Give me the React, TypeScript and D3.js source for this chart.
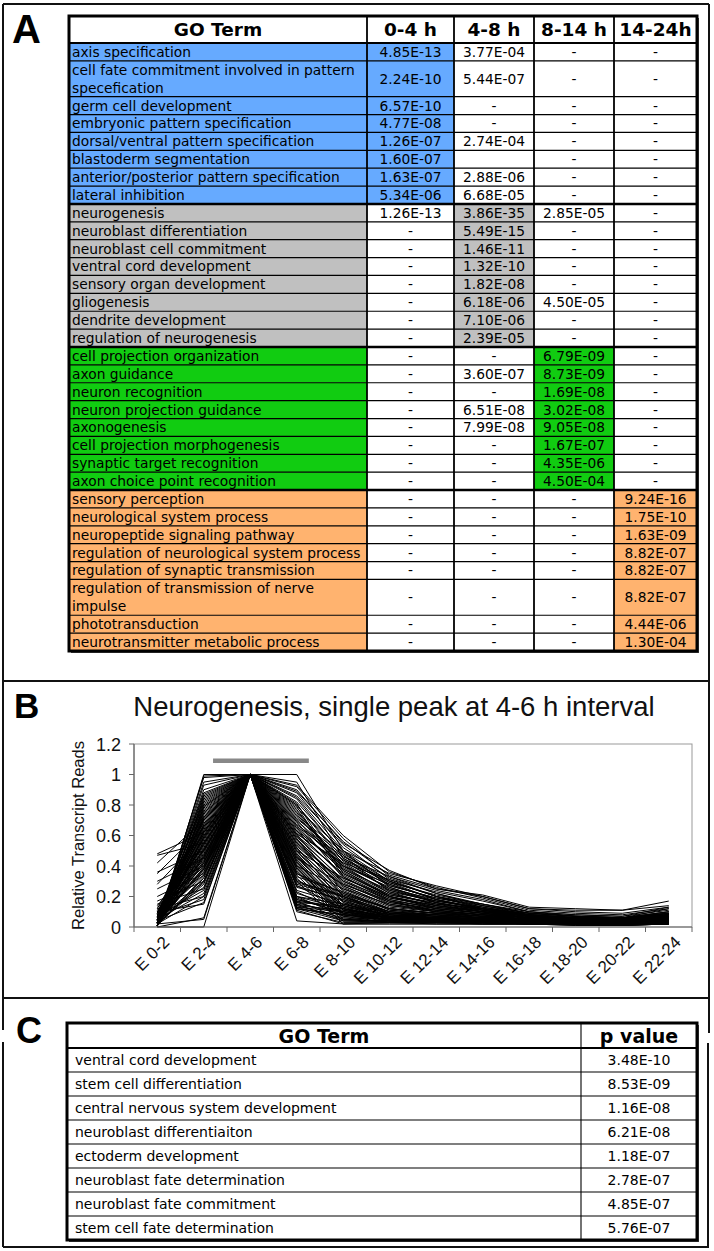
import React from 'react';
import * as d3 from 'd3';

// ---------------- Panel A data ----------------
const groupColors = ['#66aaff', '#c0c0c0', '#11cc11', '#ffb36f'];
const timeHeaders = ['0-4 h', '4-8 h', '8-14 h', '14-24h'];
const termsA = [
  'axis specification',
  'cell fate commitment involved in pattern\nspecefication',
  'germ cell development',
  'embryonic pattern specification',
  'dorsal/ventral pattern specification',
  'blastoderm segmentation',
  'anterior/posterior pattern specification',
  'lateral inhibition',
  'neurogenesis',
  'neuroblast differentiation',
  'neuroblast cell commitment',
  'ventral cord development',
  'sensory organ development',
  'gliogenesis',
  'dendrite development',
  'regulation of neurogenesis',
  'cell projection organization',
  'axon guidance',
  'neuron recognition',
  'neuron projection guidance',
  'axonogenesis',
  'cell projection morphogenesis',
  'synaptic target recognition',
  'axon choice point recognition',
  'sensory perception',
  'neurological system process',
  'neuropeptide signaling pathway',
  'regulation of neurological system process',
  'regulation of synaptic transmission',
  'regulation of transmission of nerve\nimpulse',
  'phototransduction',
  'neurotransmitter metabolic process',
];
const groupA = [0,0,0,0,0,0,0,0, 1,1,1,1,1,1,1,1, 2,2,2,2,2,2,2,2, 3,3,3,3,3,3,3,3];
const p0to4 = ['4.85E-13','2.24E-10','6.57E-10','4.77E-08','1.26E-07','1.60E-07','1.63E-07','5.34E-06',
  '1.26E-13','-','-','-','-','-','-','-', '-','-','-','-','-','-','-','-', '-','-','-','-','-','-','-','-'];
const p4to8 = ['3.77E-04','5.44E-07','-','-','2.74E-04','','2.88E-06','6.68E-05',
  '3.86E-35','5.49E-15','1.46E-11','1.32E-10','1.82E-08','6.18E-06','7.10E-06','2.39E-05',
  '-','3.60E-07','-','6.51E-08','7.99E-08','-','-','-', '-','-','-','-','-','-','-','-'];
const p8to14 = ['-','-','-','-','-','-','-','-',
  '2.85E-05','-','-','-','-','4.50E-05','-','-',
  '6.79E-09','8.73E-09','1.69E-08','3.02E-08','9.05E-08','1.67E-07','4.35E-06','4.50E-04',
  '-','-','-','-','-','-','-','-'];
const p14to24 = ['-','-','-','-','-','-','-','-', '-','-','-','-','-','-','-','-', '-','-','-','-','-','-','-','-',
  '9.24E-16','1.75E-10','1.63E-09','8.82E-07','8.82E-07','8.82E-07','4.44E-06','1.30E-04'];

// ---------------- Panel B data ----------------
const stages = ['E 0-2','E 2-4','E 4-6','E 6-8','E 8-10','E 10-12','E 12-14','E 14-16','E 16-18','E 18-20','E 20-22','E 22-24'];
const yTicksB = [0, 0.2, 0.4, 0.6, 0.8, 1, 1.2];
const peakBar = { from: 'E 2-4', to: 'E 6-8', value: 1.09 };
const profiles: number[][] = [
  [0.48,0.62,1,0.85,0.5,0.35,0.27,0.2,0.12,0.11,0.11,0.17],
  [0.47,0.55,1,0.9,0.55,0.37,0.25,0.21,0.13,0.12,0.11,0.14],
  [0.42,0.7,1,0.8,0.45,0.3,0.2,0.15,0.1,0.08,0.07,0.13],
  [0.36,0.5,1,0.75,0.4,0.28,0.18,0.12,0.09,0.07,0.06,0.12],
  [0.35,0.65,1,0.7,0.42,0.25,0.16,0.1,0.08,0.06,0.06,0.1],
  [0.3,0.45,1,0.65,0.38,0.22,0.15,0.12,0.07,0.06,0.05,0.09],
  [0.28,0.6,1,0.6,0.35,0.2,0.14,0.11,0.07,0.05,0.05,0.08],
  [0.25,0.4,1,0.55,0.3,0.18,0.12,0.09,0.06,0.05,0.04,0.08],
  [0.2,0.35,1,0.5,0.32,0.2,0.13,0.1,0.06,0.05,0.05,0.07],
  [0.17,0.3,1,0.45,0.28,0.17,0.11,0.08,0.05,0.04,0.04,0.07],
  [0.15,0.25,1,0.4,0.25,0.15,0.1,0.07,0.05,0.04,0.04,0.06],
  [0.12,0.2,1,0.35,0.22,0.12,0.09,0.07,0.05,0.04,0.03,0.06],
  [0.1,0.15,1,0.3,0.2,0.1,0.08,0.06,0.04,0.03,0.03,0.05],
  [0.08,0.18,1,0.2,0.15,0.08,0.06,0.05,0.04,0.03,0.03,0.05],
  [0.05,0.22,1,0.15,0.1,0.06,0.05,0.04,0.03,0.03,0.02,0.04],
  [0.02,0.05,1,0.12,0.08,0.05,0.04,0.04,0.03,0.02,0.02,0.04],
  [0,0,1,0.04,0.02,0.02,0.02,0.02,0.02,0.01,0.01,0.02],
  [0,1,1,1,0.5,0.3,0.2,0.12,0.08,0.06,0.05,0.08],
  [0.01,0.99,1,0.95,0.45,0.28,0.18,0.11,0.07,0.05,0.05,0.07],
  [0.03,0.98,1,0.88,0.52,0.32,0.22,0.14,0.09,0.07,0.06,0.1],
  [0.05,0.87,1,0.82,0.48,0.3,0.2,0.13,0.08,0.06,0.05,0.09],
  [0.02,0.85,1,0.78,0.5,0.26,0.17,0.12,0.07,0.06,0.05,0.08],
  [0.04,0.82,1,0.72,0.44,0.24,0.16,0.11,0.07,0.05,0.05,0.07],
  [0.06,0.8,1,0.68,0.4,0.22,0.15,0.1,0.06,0.05,0.04,0.06],
  [0.01,0.78,1,0.66,0.36,0.2,0.14,0.1,0.06,0.04,0.04,0.06],
  [0.08,0.75,1,0.63,0.33,0.18,0.12,0.09,0.06,0.04,0.04,0.05],
  [0.03,0.72,1,0.6,0.3,0.16,0.11,0.08,0.05,0.04,0.03,0.05],
  [0.1,0.7,1,0.58,0.27,0.14,0.1,0.07,0.05,0.04,0.03,0.05],
  [0.02,0.68,1,0.55,0.25,0.12,0.09,0.07,0.05,0.03,0.03,0.04],
  [0.12,0.66,1,0.52,0.22,0.1,0.08,0.06,0.04,0.03,0.03,0.04],
  [0.04,0.64,1,0.5,0.2,0.08,0.07,0.05,0.04,0.03,0.03,0.04],
  [0.07,0.62,1,0.48,0.18,0.06,0.05,0.05,0.04,0.03,0.02,0.03],
  [0.01,0.6,1,0.46,0.16,0.05,0.05,0.04,0.03,0.03,0.02,0.03],
  [0.09,0.58,1,0.44,0.14,0.05,0.04,0.04,0.03,0.02,0.02,0.03],
  [0.03,0.56,1,0.42,0.12,0.04,0.04,0.03,0.03,0.02,0.02,0.03],
  [0.05,0.54,1,0.4,0.1,0.04,0.04,0.03,0.03,0.02,0.02,0.03],
  [0.02,0.52,1,0.38,0.08,0.04,0.03,0.03,0.02,0.02,0.02,0.02],
  [0.14,0.5,1,0.36,0.06,0.03,0.03,0.03,0.02,0.02,0.02,0.02],
  [0.06,0.48,1,0.34,0.05,0.03,0.03,0.02,0.02,0.02,0.02,0.02],
  [0.01,0.46,1,0.32,0.04,0.03,0.02,0.02,0.02,0.02,0.01,0.02],
  [0.11,0.44,1,0.3,0.02,0.02,0.02,0.02,0.02,0.01,0.01,0.02],
  [0.03,0.42,1,0.28,0.2,0.08,0.06,0.05,0.04,0.03,0.03,0.05],
  [0.08,0.4,1,0.26,0.18,0.1,0.07,0.05,0.04,0.03,0.03,0.05],
  [0.02,0.38,1,0.24,0.15,0.09,0.06,0.04,0.03,0.03,0.03,0.04],
  [0.04,0.36,1,0.2,0.12,0.07,0.05,0.04,0.03,0.02,0.02,0.04],
  [0.13,0.34,1,0.18,0.1,0.06,0.05,0.04,0.03,0.02,0.02,0.03],
  [0.01,0.32,1,0.16,0.08,0.05,0.04,0.03,0.03,0.02,0.02,0.03],
  [0.05,0.3,1,0.14,0.06,0.05,0.04,0.03,0.02,0.02,0.02,0.03],
  [0.02,0.28,1,0.12,0.04,0.04,0.03,0.03,0.02,0.02,0.02,0.02],
  [0.06,0.26,1,0.11,0.02,0.03,0.03,0.02,0.02,0.02,0.01,0.02],
  [0.03,0.9,1,0.92,0.58,0.33,0.24,0.18,0.1,0.08,0.07,0.11],
  [0.07,0.88,1,0.86,0.54,0.31,0.23,0.17,0.1,0.07,0.06,0.1],
  [0.02,0.84,1,0.84,0.47,0.29,0.21,0.15,0.09,0.07,0.06,0.09],
  [0.05,0.76,1,0.8,0.43,0.27,0.19,0.13,0.08,0.06,0.06,0.09],
  [0.01,0.74,1,0.76,0.41,0.25,0.18,0.12,0.08,0.06,0.05,0.08],
  [0.09,0.71,1,0.7,0.39,0.23,0.17,0.12,0.07,0.06,0.05,0.08],
  [0.04,0.69,1,0.64,0.37,0.21,0.16,0.11,0.07,0.05,0.05,0.07],
  [0.02,0.67,1,0.62,0.34,0.19,0.14,0.1,0.07,0.05,0.05,0.07],
  [0.06,0.65,1,0.59,0.31,0.17,0.13,0.09,0.06,0.05,0.04,0.06],
  [0.03,0.63,1,0.57,0.29,0.15,0.11,0.08,0.06,0.05,0.04,0.06],
  [0.01,0.61,1,0.54,0.26,0.13,0.1,0.08,0.06,0.04,0.04,0.06],
  [0.05,0.59,1,0.51,0.24,0.11,0.09,0.07,0.05,0.04,0.04,0.05],
  [0.02,0.57,1,0.49,0.21,0.09,0.08,0.06,0.05,0.04,0.04,0.05],
  [0.08,0.55,1,0.47,0.19,0.07,0.06,0.05,0.04,0.04,0.03,0.05],
  [0.04,0.53,1,0.45,0.17,0.06,0.06,0.05,0.04,0.03,0.03,0.04],
  [0.01,0.51,1,0.43,0.13,0.05,0.05,0.04,0.04,0.03,0.03,0.04],
  [0.03,0.49,1,0.41,0.11,0.04,0.04,0.04,0.03,0.03,0.03,0.04],
  [0.06,0.47,1,0.39,0.09,0.03,0.04,0.03,0.03,0.03,0.02,0.03],
  [0.02,0.45,1,0.37,0.07,0.03,0.03,0.03,0.03,0.02,0.02,0.03],
  [0.04,0.43,1,0.33,0.23,0.11,0.08,0.06,0.04,0.03,0.03,0.04],
  [0.1,0.41,1,0.29,0.21,0.12,0.09,0.06,0.05,0.04,0.03,0.05],
  [0.02,0.39,1,0.27,0.17,0.09,0.07,0.05,0.04,0.03,0.03,0.04],
  [0.05,0.37,1,0.22,0.13,0.08,0.06,0.05,0.04,0.03,0.03,0.04],
  [0.01,0.33,1,0.19,0.09,0.06,0.05,0.04,0.03,0.03,0.02,0.03],
  [0.03,0.29,1,0.13,0.05,0.04,0.04,0.03,0.03,0.02,0.02,0.03],
  [0.07,0.24,1,0.1,0.03,0.03,0.03,0.03,0.02,0.02,0.02,0.02],
  [0.02,0.2,1,0.17,0.12,0.07,0.05,0.04,0.03,0.03,0.02,0.03],
  [0.04,0.16,1,0.13,0.1,0.06,0.05,0.04,0.03,0.02,0.02,0.03],
  [0.01,0.93,1,0.93,0.6,0.36,0.26,0.19,0.11,0.09,0.08,0.12],
  [0.03,0.95,1,0.89,0.56,0.34,0.25,0.2,0.12,0.1,0.09,0.13],
  [0.0,0.06,1,0.18,0.12,0.06,0.05,0.04,0.03,0.03,0.02,0.03],
  [0.02,0.72,1,0.16,0.14,0.08,0.06,0.05,0.04,0.03,0.03,0.04],
  [0.04,0.81,1,0.14,0.11,0.07,0.05,0.04,0.03,0.03,0.03,0.04],
  [0.06,0.86,1,0.12,0.08,0.06,0.05,0.04,0.03,0.03,0.02,0.03],
  [0.01,0.79,1,0.61,0.42,0.31,0.2,0.14,0.09,0.07,0.06,0.08],
  [0.03,0.77,1,0.67,0.46,0.33,0.22,0.15,0.09,0.07,0.06,0.09],
  [0.05,0.73,1,0.73,0.49,0.27,0.19,0.14,0.08,0.06,0.06,0.08],
  [0.02,0.7,1,0.77,0.38,0.24,0.17,0.13,0.08,0.06,0.05,0.07],
  [0.04,0.66,1,0.81,0.35,0.21,0.15,0.12,0.07,0.06,0.05,0.07],
  [0.01,0.62,1,0.69,0.32,0.19,0.13,0.1,0.07,0.05,0.05,0.06],
  [0.03,0.58,1,0.56,0.28,0.16,0.12,0.09,0.06,0.05,0.04,0.06],
  [0.07,0.54,1,0.53,0.27,0.14,0.11,0.08,0.06,0.05,0.04,0.05],
  [0.02,0.5,1,0.61,0.23,0.12,0.09,0.07,0.05,0.04,0.04,0.05],
  [0.05,0.46,1,0.58,0.2,0.1,0.08,0.06,0.05,0.04,0.04,0.05],
  [0.01,0.42,1,0.52,0.16,0.09,0.07,0.06,0.05,0.04,0.03,0.05],
  [0.03,0.38,1,0.47,0.14,0.07,0.06,0.05,0.04,0.04,0.03,0.04],
  [0.06,0.34,1,0.43,0.11,0.06,0.05,0.05,0.04,0.03,0.03,0.04],
  [0.02,0.3,1,0.39,0.08,0.05,0.05,0.04,0.04,0.03,0.03,0.04],
  [0.04,0.83,1,0.35,0.19,0.09,0.07,0.06,0.04,0.04,0.03,0.05],
  [0.01,0.79,1,0.31,0.15,0.07,0.06,0.05,0.04,0.03,0.03,0.04],
  [0.03,0.75,1,0.27,0.12,0.06,0.05,0.04,0.04,0.03,0.03,0.04],
  [0.05,0.71,1,0.23,0.09,0.05,0.05,0.04,0.03,0.03,0.03,0.04],
  [0.02,0.67,1,0.2,0.07,0.05,0.04,0.04,0.03,0.03,0.02,0.03],
  [0.04,0.63,1,0.17,0.05,0.04,0.04,0.03,0.03,0.03,0.02,0.03],
  [0.01,0.59,1,0.15,0.04,0.04,0.03,0.03,0.03,0.02,0.02,0.03],
  [0.03,0.55,1,0.63,0.4,0.26,0.16,0.11,0.07,0.05,0.05,0.07],
  [0.06,0.51,1,0.66,0.44,0.29,0.18,0.12,0.08,0.06,0.05,0.08],
  [0.02,0.47,1,0.71,0.47,0.23,0.14,0.1,0.07,0.05,0.05,0.07],
  [0.09,0.43,1,0.74,0.37,0.2,0.12,0.09,0.06,0.05,0.04,0.06],
  [0.04,0.39,1,0.79,0.33,0.17,0.1,0.08,0.06,0.04,0.04,0.06],
];

// ---------------- Panel C data ----------------
const termsC = [
  'ventral cord development',
  'stem cell differentiation',
  'central nervous system development',
  'neuroblast differentiaiton',
  'ectoderm development',
  'neuroblast fate determination',
  'neuroblast fate commitment',
  'stem cell fate determination',
];
const pValuesC = ['3.48E-10','8.53E-09','1.16E-08','6.21E-08','1.18E-07','2.78E-07','4.85E-07','5.76E-07'];

const TF = '"DejaVu Sans", Verdana, sans-serif';
const AF = '"Liberation Sans", Arial, Helvetica, sans-serif';

function TableA() {
  const colX = [69, 367, 454, 534, 614, 697];
  const top = 16, headBottom = 43, bottom = 651;
  const units = termsA.map(t => t.split('\n').length);
  const cum = Array.from(d3.cumsum([0, ...units]));
  const y = d3.scaleLinear().domain([0, cum[cum.length - 1]]).range([headBottom, bottom]);
  const cols = [p0to4, p4to8, p8to14, p14to24];
  const fs = 13.8;
  return (
    <g>
      <rect x={colX[0] + 2} y={top + 2} width={colX[5] - colX[0]} height={bottom - top} fill="#444" />
      <rect x={colX[0]} y={top} width={colX[5] - colX[0]} height={bottom - top} fill="white" />
      {termsA.map((t, i) => {
        const y0 = y(cum[i]), y1 = y(cum[i + 1]);
        const g = groupA[i];
        const lines = t.split('\n');
        return (
          <g key={i}>
            {[0, 1, 2, 3, 4].map(c => {
              const hl = c === 0 || c === g + 1;
              return <rect key={c} x={colX[c]} y={y0} width={colX[c + 1] - colX[c]} height={y1 - y0}
                fill={hl ? groupColors[g] : 'white'} />;
            })}
            {lines.map((ln, k) => (
              <text key={k} x={colX[0] + 3} y={y0 + (y1 - y0) * (k + 0.5) / lines.length + fs * 0.36}
                fontFamily={TF} fontSize={fs} fill="#000">{ln}</text>
            ))}
            {cols.map((arr, c) => (
              <text key={'v' + c} x={(colX[c + 1] + colX[c + 2]) / 2} y={(y0 + y1) / 2 + fs * 0.36}
                textAnchor="middle" fontFamily={TF} fontSize={fs} fill="#000">{arr[i]}</text>
            ))}
          </g>
        );
      })}
      {cum.slice(1, -1).map((u, k) => {
        const sep = groupA[k] !== groupA[k + 1];
        return <line key={'h' + k} x1={colX[0]} x2={colX[5]} y1={y(u)} y2={y(u)} stroke="#000" strokeWidth={sep ? 2.5 : 1.2} />;
      })}
      <line x1={colX[0]} x2={colX[5]} y1={headBottom} y2={headBottom} stroke="#000" strokeWidth={2} />
      {colX.slice(1, 5).map((x, k) => (
        <line key={'v' + k} x1={x} x2={x} y1={top} y2={bottom} stroke="#000" strokeWidth={1.8} />
      ))}
      <text x={(colX[0] + colX[1]) / 2} y={(top + headBottom) / 2 + 6.5} textAnchor="middle" fontFamily={TF}
        fontWeight="bold" fontSize={18.5}>GO Term</text>
      {timeHeaders.map((h, c) => (
        <text key={h} x={(colX[c + 1] + colX[c + 2]) / 2} y={(top + headBottom) / 2 + 6.5} textAnchor="middle"
          fontFamily={TF} fontWeight="bold" fontSize={18.5}>{h}</text>
      ))}
      <rect x={colX[0]} y={top} width={colX[5] - colX[0]} height={bottom - top} fill="none" stroke="#000" strokeWidth={3} />
    </g>
  );
}

function ChartB() {
  const x = d3.scaleBand<string>().domain(stages).range([134, 692]);
  const yS = d3.scaleLinear().domain([0, 1.2]).range([927, 744]);
  const cx = (s: string) => (x(s) as number) + x.bandwidth() / 2;
  const line = d3.line<number>().x((_, i) => cx(stages[i])).y(d => yS(d));
  const bx0 = cx(peakBar.from) + x.step() * 0.2;
  const bx1 = cx(peakBar.to) + x.step() * 0.26;
  return (
    <g>
      <text x={394} y={716} textAnchor="middle" fontFamily={AF} fontSize={27.5} fill="#111">
        Neurogenesis, single peak at 4-6 h interval
      </text>
      <rect x={134} y={yS(1.2)} width={692 - 134} height={yS(0) - yS(1.2)} fill="white" stroke="#999" strokeWidth={1} />
      {profiles.map((p, i) => (
        <path key={i} d={line(p) as string} fill="none" stroke="#000" strokeWidth={1} strokeLinejoin="round" />
      ))}
      <line x1={bx0} x2={bx1} y1={yS(peakBar.value)} y2={yS(peakBar.value)} stroke="#888" strokeWidth={4.5} />
      <line x1={134} x2={134} y1={yS(1.2)} y2={yS(0)} stroke="#666" strokeWidth={1.2} />
      <line x1={134} x2={692} y1={yS(0)} y2={yS(0)} stroke="#666" strokeWidth={1.2} />
      {yTicksB.map(t => (
        <g key={t}>
          <line x1={129} x2={134} y1={yS(t)} y2={yS(t)} stroke="#666" />
          <text x={121} y={yS(t) + 6.5} textAnchor="end" fontFamily={AF} fontSize={18} fill="#111">{String(t)}</text>
        </g>
      ))}
      {[...stages.map(s => x(s) as number), 692].map((v, i) => (
        <line key={i} x1={v} x2={v} y1={yS(0)} y2={yS(0) + 5} stroke="#666" />
      ))}
      {stages.map(s => (
        <text key={s} transform={`translate(${cx(s) + 9},${yS(0) + 12}) rotate(-45)`} textAnchor="end"
          fontFamily={AF} fontSize={17} fill="#111" dy="0.35em">{s}</text>
      ))}
      <text transform={`translate(84,${(yS(0) + yS(1.2)) / 2}) rotate(-90)`} textAnchor="middle"
        fontFamily={AF} fontSize={16.5} fill="#111">Relative Transcript Reads</text>
    </g>
  );
}

function TableC() {
  const colX = [67, 581, 697];
  const top = 1023, headBottom = 1048, rowH = 24;
  const bottom = headBottom + rowH * termsC.length;
  const y = d3.scaleBand<number>().domain(d3.range(termsC.length)).range([headBottom, bottom]);
  const fs = 14;
  return (
    <g>
      <rect x={colX[0] + 2} y={top + 2} width={colX[2] - colX[0]} height={bottom - top} fill="#444" />
      <rect x={colX[0]} y={top} width={colX[2] - colX[0]} height={bottom - top} fill="white" />
      {termsC.map((t, i) => {
        const y0 = y(i) as number;
        return (
          <g key={i}>
            <text x={colX[0] + 8} y={y0 + rowH / 2 + fs * 0.36} fontFamily={TF} fontSize={fs}>{t}</text>
            <text x={(colX[1] + colX[2]) / 2} y={y0 + rowH / 2 + fs * 0.36} textAnchor="middle" fontFamily={TF} fontSize={fs}>{pValuesC[i]}</text>
            {i > 0 && <line x1={colX[0]} x2={colX[2]} y1={y0} y2={y0} stroke="#000" strokeWidth={1.1} />}
          </g>
        );
      })}
      <line x1={colX[0]} x2={colX[2]} y1={headBottom} y2={headBottom} stroke="#000" strokeWidth={2} />
      <line x1={colX[1]} x2={colX[1]} y1={top} y2={bottom} stroke="#000" strokeWidth={1.1} />
      <text x={(colX[0] + colX[1]) / 2} y={(top + headBottom) / 2 + 7} textAnchor="middle" fontFamily={TF}
        fontWeight="bold" fontSize={19}>GO Term</text>
      <text x={(colX[1] + colX[2]) / 2} y={(top + headBottom) / 2 + 7} textAnchor="middle" fontFamily={TF}
        fontWeight="bold" fontSize={19}>p value</text>
      <rect x={colX[0]} y={top} width={colX[2] - colX[0]} height={bottom - top} fill="none" stroke="#000" strokeWidth={3} />
    </g>
  );
}

export default function App() {
  return (
    <svg width={714} height={1251} viewBox="0 0 714 1251"
      style={{ position: 'absolute', left: 0, top: 0, background: 'white' }}>
      <rect width={714} height={1251} fill="white" />
      <g stroke="#111" strokeWidth={2} fill="none">
        <line x1={3} x2={709} y1={4} y2={4} />
        <line x1={3} x2={709} y1={681} y2={681} />
        <line x1={3} x2={709} y1={998} y2={998} />
        <line x1={3} x2={709} y1={1247} y2={1247} />
        <line x1={3} x2={3} y1={4} y2={1030} />
        <line x1={3} x2={3} y1={1042} y2={1247} />
        <line x1={709} x2={709} y1={4} y2={1033} />
        <line x1={708} x2={708} y1={1043} y2={1247} />
      </g>
      <text x={12} y={43} fontFamily={AF} fontWeight="bold" fontSize={40}>A</text>
      <text x={14} y={718} fontFamily={AF} fontWeight="bold" fontSize={35}>B</text>
      <text x={16} y={1043} fontFamily={AF} fontWeight="bold" fontSize={36}>C</text>
      <TableA />
      <ChartB />
      <TableC />
    </svg>
  );
}
